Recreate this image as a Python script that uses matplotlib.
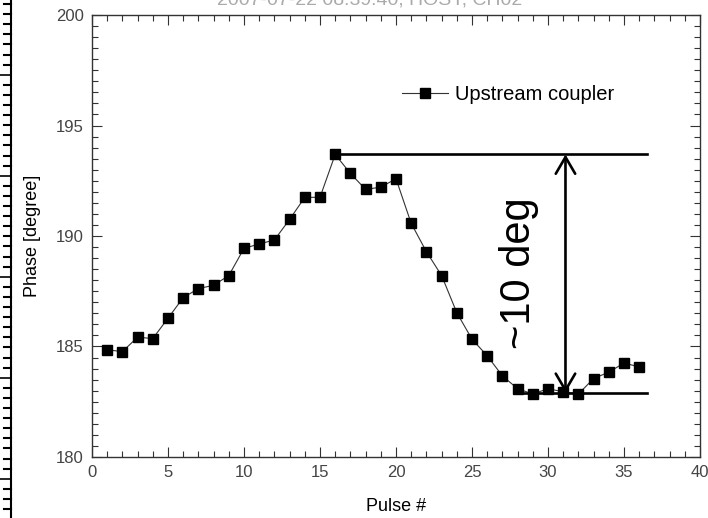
import matplotlib
matplotlib.use("Agg")
import matplotlib.pyplot as plt
from matplotlib.ticker import MultipleLocator
from matplotlib.lines import Line2D

pulse = list(range(1, 37))
phase = [184.85, 184.77, 185.42, 185.36, 186.28, 187.21, 187.62, 187.77, 188.21,
         189.44, 189.64, 189.82, 190.75, 191.75, 191.75, 193.69, 192.83, 192.11,
         192.21, 192.59, 190.57, 189.29, 188.21, 186.53, 185.33, 184.58, 183.67,
         183.09, 182.85, 183.09, 182.95, 182.85, 183.55, 183.84, 184.25, 184.08]

series_label = "Upstream coupler"
x_label = "Pulse #"
y_label = "Phase [degree]"
annot_text = "~10 deg"
title_text = "2007-07-22 08:39:40, HOSY, CH02"

top_level = 193.69
bottom_level = 182.9
top_x = (16, 36.5)
bottom_x = (28, 36.5)
arrow_x = 31.15
text_pos = (28.1, 188.3)

plt.rcParams['font.family'] = ['Liberation Sans', 'DejaVu Sans']

fig = plt.figure(figsize=(7.08, 5.18), dpi=100)
ax = fig.add_axes([92/708, 1-457/518, (700-92)/708, (457-15)/518])

ax.plot(pulse, phase, color='#333333', lw=0.8, marker='s', ms=6.5,
        mfc='black', mec='black', label=series_label)

ax.plot(top_x, [top_level, top_level], color='black', lw=1.9)
ax.plot(bottom_x, [bottom_level, bottom_level], color='black', lw=1.9)
ax.annotate('', xy=(arrow_x, bottom_level), xytext=(arrow_x, top_level),
            arrowprops=dict(arrowstyle='<->,head_length=1.2,head_width=0.7',
                            lw=1.9, color='black', shrinkA=0, shrinkB=0))
ax.text(text_pos[0], text_pos[1], annot_text, rotation=90, fontsize=30,
        ha='center', va='center', color='black')

ax.set_xlim(0, 40)
ax.set_ylim(180, 200)
ax.xaxis.set_major_locator(MultipleLocator(5))
ax.xaxis.set_minor_locator(MultipleLocator(1))
ax.yaxis.set_major_locator(MultipleLocator(5))
ax.yaxis.set_minor_locator(MultipleLocator(0.5))
ax.tick_params(which='both', direction='in', top=True, right=True,
               labelsize=12, labelcolor='#444444', color='#333333')
ax.tick_params(which='major', length=7, width=0.8, pad=6)
ax.tick_params(which='minor', length=4, width=0.8)
for s in ax.spines.values():
    s.set_linewidth(1.0)
    s.set_color('#333333')
for lab in ax.get_xticklabels() + ax.get_yticklabels():
    lab.set_fontfamily(['Liberation Sans Narrow', 'Liberation Sans', 'DejaVu Sans'])

ax.set_xlabel(x_label, fontsize=13, labelpad=13)
ax.set_ylabel(y_label, fontsize=13, labelpad=11)

leg = ax.legend(loc='center left', bbox_to_anchor=(0.51, 0.821), frameon=False,
                fontsize=14.5, handlelength=2.3, handletextpad=0.35,
                borderpad=0, borderaxespad=0)

fig.text(370/708, 1.0, title_text, ha='center', va='center', fontsize=14,
         color='#aaaaaa')

# ruler strip at left edge (screen capture artifact)
H = 518.0
fig.add_artist(Line2D([10.5/708, 10.5/708], [0, 1], transform=fig.transFigure,
                      color='black', lw=1.5))
y = 518 - 4.0
i = 0
while y > 0:
    major = (i % 10 == 7)
    x0 = 0 if major else 4
    fig.add_artist(Line2D([x0/708, 10.5/708], [y/H, y/H], transform=fig.transFigure,
                          color='black', lw=1.5 if not major else 1.2))
    y -= 10.1
    i += 1

fig.savefig('out.png', dpi=100)
